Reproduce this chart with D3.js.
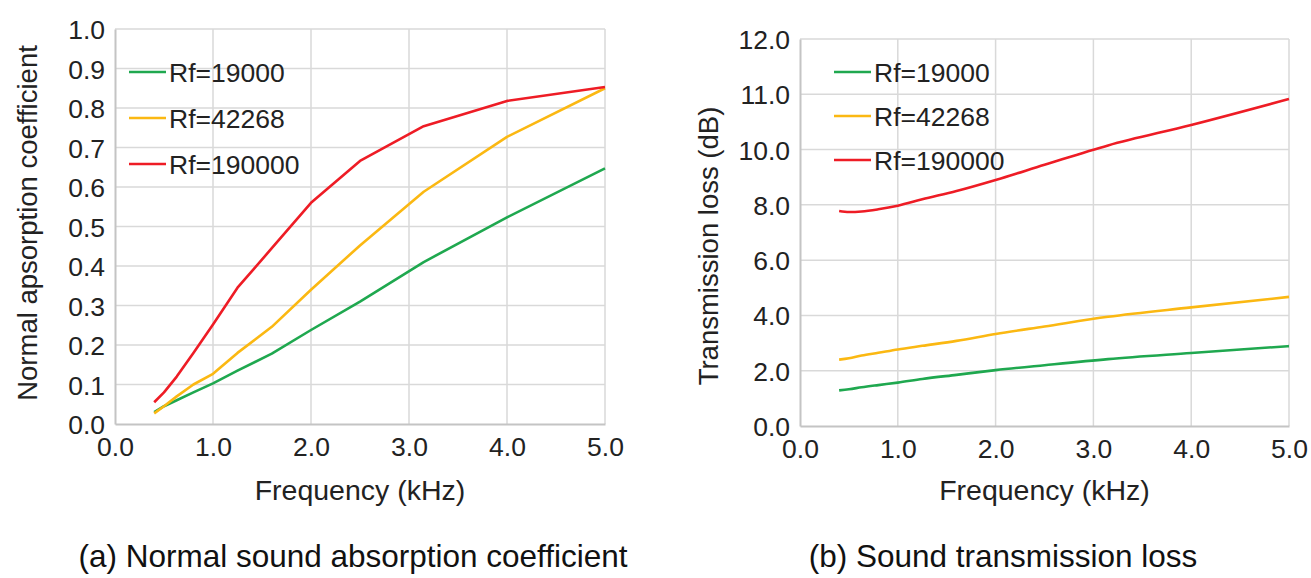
<!DOCTYPE html>
<html>
<head>
<meta charset="utf-8">
<script src="https://cdnjs.cloudflare.com/ajax/libs/d3/7.8.5/d3.min.js"></script>
<style>
  body { margin: 0; background: #fff; }
  svg { display: block; font-family: "Liberation Sans", Arial, sans-serif; }
  .grid line { stroke: #d9d9d9; stroke-width: 1.5; }
  .tick text { fill: #222; }
</style>
</head>
<body>
<svg id="chart" width="1311" height="578"></svg>
<script>
// frequencies (kHz), 1/3 octave bands
var freqs = [0.4, 0.5, 0.63, 0.8, 1.0, 1.25, 1.6, 2.0, 2.5, 3.15, 4.0, 5.0];
var seriesNames = ["Rf=19000", "Rf=42268", "Rf=190000"];
var seriesColors = ["#1fa84f", "#fbb812", "#ee1c25"];

// (a) normal absorption coefficient
var absorp19000  = [0.030, 0.045, 0.060, 0.080, 0.103, 0.135, 0.178, 0.238, 0.310, 0.410, 0.523, 0.647];
var absorp42268  = [0.027, 0.045, 0.070, 0.100, 0.127, 0.180, 0.246, 0.340, 0.452, 0.588, 0.727, 0.850];
var absorp190000 = [0.055, 0.080, 0.120, 0.180, 0.252, 0.345, 0.445, 0.560, 0.666, 0.754, 0.818, 0.853];

// (b) transmission loss (dB)
var tl19000  = [1.29, 1.33, 1.40, 1.48, 1.57, 1.70, 1.85, 2.02, 2.20, 2.42, 2.64, 2.89];
var tl42268  = [2.40, 2.45, 2.55, 2.65, 2.77, 2.90, 3.08, 3.33, 3.60, 3.95, 4.29, 4.67];
var tl190000 = [7.78, 7.74, 7.76, 7.84, 7.97, 8.20, 8.50, 8.90, 9.45, 10.15, 10.89, 11.83];

var xTicks = [0, 1, 2, 3, 4, 5];
var yTicksA = [0, 0.1, 0.2, 0.3, 0.4, 0.5, 0.6, 0.7, 0.8, 0.9, 1.0];
var yTicksB = [0, 2, 4, 6, 8, 10, 12, 14];
var yTickLabelsB = ["0.0", "2.0", "4.0", "6.0", "8.0", "10.0", "11.0", "12.0"];

function draw_panel(svg, box, yDomain, yTicks, yLabels, series, ylabel, ytitlePos, caption, captionX, legendPos, curve) {
  var width = box.right - box.left,
      height = box.bottom - box.top;

  var x = d3.scaleLinear().domain([0, 5]).range([0, width]);
  var y = d3.scaleLinear().domain(yDomain).range([height, 0]);

  var g = svg.append("g")
      .attr("transform", "translate(" + box.left + "," + box.top + ")");

  // grid
  g.append("g").attr("class", "grid")
    .selectAll("line").data(xTicks.slice(1)).enter().append("line")
      .attr("x1", function(d) { return x(d); }).attr("x2", function(d) { return x(d); })
      .attr("y1", 0).attr("y2", height);
  g.append("g").attr("class", "grid")
    .selectAll("line").data(yTicks.slice(1)).enter().append("line")
      .attr("x1", 0).attr("x2", width)
      .attr("y1", function(d) { return y(d); }).attr("y2", function(d) { return y(d); });

  // axes
  var xa = g.append("g")
      .attr("transform", "translate(0," + height + ")")
      .call(d3.axisBottom(x).tickValues(xTicks).tickFormat(d3.format(".1f")).tickSize(0).tickPadding(9));
  var ya = g.append("g")
      .call(d3.axisLeft(y).tickValues(yTicks).tickSize(0).tickPadding(10)
        .tickFormat(function(d, i) { return yLabels[i]; }));
  [xa, ya].forEach(function(a) {
    a.select(".domain").attr("stroke", "#c4c4c4").attr("stroke-width", 2);
    a.selectAll("text").attr("font-size", 26.5).attr("font-family", "Liberation Sans, Arial, sans-serif");
  });
  xa.selectAll("text").attr("dy", "0.85em");
  ya.selectAll("text").attr("dy", "0.36em");

  // lines
  var line = d3.line()
      .x(function(d) { return x(d[0]); })
      .y(function(d) { return y(d[1]); })
      .curve(curve);
  series.forEach(function(s, i) {
    g.append("path")
      .datum(freqs.map(function(f, j) { return [f, s[j]]; }))
      .attr("fill", "none")
      .attr("stroke", seriesColors[i])
      .attr("stroke-width", 2.6)
      .attr("stroke-linejoin", "round")
      .attr("d", line);
  });

  // legend
  seriesNames.forEach(function(name, i) {
    var ly = legendPos.y + i * legendPos.step;
    svg.append("line")
      .attr("x1", legendPos.x).attr("x2", legendPos.x + 37)
      .attr("y1", ly).attr("y2", ly)
      .attr("stroke", seriesColors[i]).attr("stroke-width", 2.6);
    svg.append("text")
      .attr("x", legendPos.x + 40).attr("y", ly)
      .attr("dy", "0.36em")
      .attr("font-size", 26.5).attr("fill", "#222")
      .text(name);
  });

  // titles
  svg.append("text")
    .attr("x", box.left + width / 2).attr("y", 490)
    .attr("dy", "0.36em")
    .attr("text-anchor", "middle")
    .attr("font-size", 28.5).attr("fill", "#222")
    .text("Frequency (kHz)");
  svg.append("text")
    .attr("transform", "translate(" + ytitlePos.x + "," + ytitlePos.y + ") rotate(-90)")
    .attr("dy", "0.36em")
    .attr("text-anchor", "middle")
    .attr("font-size", 27.5).attr("fill", "#222")
    .text(ylabel);
  svg.append("text")
    .attr("x", captionX).attr("y", 556)
    .attr("dy", "0.36em")
    .attr("text-anchor", "middle")
    .attr("font-size", 31.5).attr("fill", "#111")
    .text(caption);
}

var svg = d3.select("#chart");

draw_panel(svg, {left: 115, right: 605, top: 29, bottom: 424}, [0, 1], yTicksA,
  yTicksA.map(d3.format(".1f")),
  [absorp19000, absorp42268, absorp190000],
  "Normal apsorption coefficient", {x: 27, y: 223},
  "(a) Normal sound absorption coefficient", 353,
  {x: 129, y: 72, step: 46}, d3.curveLinear);

draw_panel(svg, {left: 800, right: 1289, top: 39, bottom: 426}, [0, 14], yTicksB,
  yTickLabelsB,
  [tl19000, tl42268, tl190000],
  "Transmission loss (dB)", {x: 708, y: 246},
  "(b) Sound transmission loss", 1003,
  {x: 834, y: 72, step: 44}, d3.curveMonotoneX);
</script>
</body>
</html>
